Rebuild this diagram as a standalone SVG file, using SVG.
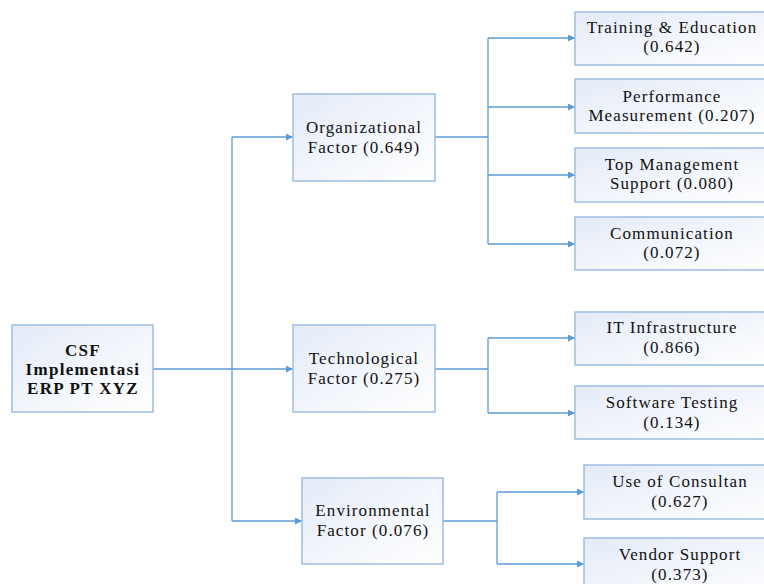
<svg xmlns="http://www.w3.org/2000/svg" width="764" height="584" viewBox="0 0 764 584">
<defs>
<linearGradient id="g" x1="0" y1="0" x2="1" y2="1">
<stop offset="0" stop-color="#e4ebf7"/>
<stop offset="1" stop-color="#ffffff"/>
</linearGradient>
<marker id="a" viewBox="0 0 10 10" refX="10" refY="5" markerWidth="9" markerHeight="7" markerUnits="userSpaceOnUse" orient="auto">
<path d="M0,0 L10,5 L0,10 z" fill="#5b9bd5"/>
</marker>
<style>
.box{fill:url(#g);stroke:#9dbde3;stroke-width:1.5}
.t{font-family:"Liberation Serif","Times New Roman",serif;font-size:17px;fill:#111111;text-anchor:middle;letter-spacing:1.1px}
.b{font-weight:bold;letter-spacing:1.3px}
.c{fill:none;stroke:#5b9bd5;stroke-width:1.3}
</style>
</defs>
<rect width="764" height="584" fill="#ffffff"/>
<g id="connectors">
<path class="c" d="M153,369 H293" marker-end="url(#a)"/>
<path class="c" d="M232,137 V521"/>
<path class="c" d="M232,137 H293" marker-end="url(#a)"/>
<path class="c" d="M232,521 H302" marker-end="url(#a)"/>
<path class="c" d="M435,137 H488"/>
<path class="c" d="M488,38 V244"/>
<path class="c" d="M488,38 H575" marker-end="url(#a)"/>
<path class="c" d="M488,107 H575" marker-end="url(#a)"/>
<path class="c" d="M488,175 H575" marker-end="url(#a)"/>
<path class="c" d="M488,244 H575" marker-end="url(#a)"/>
<path class="c" d="M435,369 H488"/>
<path class="c" d="M488,338 V413"/>
<path class="c" d="M488,338 H575" marker-end="url(#a)"/>
<path class="c" d="M488,413 H575" marker-end="url(#a)"/>
<path class="c" d="M443,521 H497"/>
<path class="c" d="M497,492 V564"/>
<path class="c" d="M497,492 H584" marker-end="url(#a)"/>
<path class="c" d="M497,564 H584" marker-end="url(#a)"/>
</g>
<g id="csf">
<rect class="box" x="12" y="325" width="141" height="87"/>
<text class="t b" x="83" y="356">CSF</text>
<text class="t b" x="83" y="375">Implementasi</text>
<text class="t b" x="83" y="394">ERP PT XYZ</text>
</g>
<g id="organizational">
<rect class="box" x="293" y="94" width="142" height="87"/>
<text class="t" x="364" y="133">Organizational</text>
<text class="t" x="364" y="153">Factor (0.649)</text>
</g>
<g id="technological">
<rect class="box" x="293" y="325" width="142" height="87"/>
<text class="t" x="364" y="364">Technological</text>
<text class="t" x="364" y="384">Factor (0.275)</text>
</g>
<g id="environmental">
<rect class="box" x="302" y="478" width="141" height="86"/>
<text class="t" x="373" y="516">Environmental</text>
<text class="t" x="373" y="536">Factor (0.076)</text>
</g>
<g id="training">
<rect class="box" x="575" y="12" width="200" height="53"/>
<text class="t" x="672" y="33">Training &amp; Education</text>
<text class="t" x="672" y="52">(0.642)</text>
</g>
<g id="performance">
<rect class="box" x="575" y="79" width="200" height="54"/>
<text class="t" x="672" y="102">Performance</text>
<text class="t" x="672" y="121">Measurement (0.207)</text>
</g>
<g id="topmanagement">
<rect class="box" x="575" y="148" width="200" height="54"/>
<text class="t" x="672" y="170">Top Management</text>
<text class="t" x="672" y="189">Support (0.080)</text>
</g>
<g id="communication">
<rect class="box" x="575" y="217" width="200" height="53"/>
<text class="t" x="672" y="239">Communication</text>
<text class="t" x="672" y="258">(0.072)</text>
</g>
<g id="itinfrastructure">
<rect class="box" x="575" y="312" width="200" height="53"/>
<text class="t" x="672" y="333">IT Infrastructure</text>
<text class="t" x="672" y="353">(0.866)</text>
</g>
<g id="softwaretesting">
<rect class="box" x="575" y="386" width="200" height="53"/>
<text class="t" x="672" y="408">Software Testing</text>
<text class="t" x="672" y="428">(0.134)</text>
</g>
<g id="consultan">
<rect class="box" x="584" y="465" width="200" height="54"/>
<text class="t" x="680" y="487">Use of Consultan</text>
<text class="t" x="680" y="507">(0.627)</text>
</g>
<g id="vendor">
<rect class="box" x="584" y="538" width="200" height="60"/>
<text class="t" x="680" y="560">Vendor Support</text>
<text class="t" x="680" y="580">(0.373)</text>
</g>
</svg>
